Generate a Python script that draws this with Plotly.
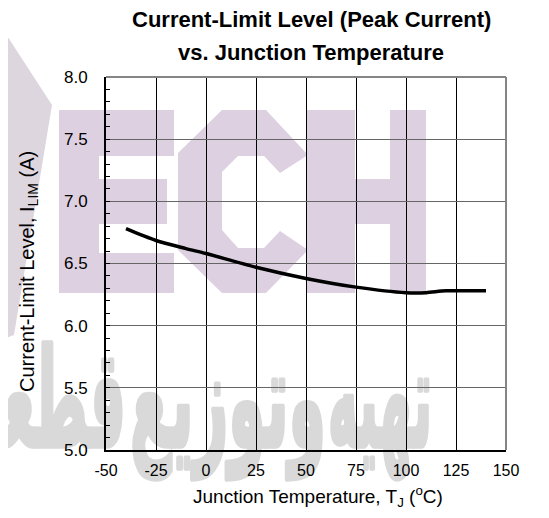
import base64
import plotly.graph_objects as go

# ---- data ----
temperature_c = [-40, -25, -10, 0, 25, 50, 75, 100, 110, 120, 140]
current_limit_a = [6.78, 6.685, 6.62, 6.58, 6.47, 6.38, 6.31, 6.265, 6.265, 6.28, 6.28]

x_tick_vals = [-50, -25, 0, 25, 50, 75, 100, 125, 150]
x_tick_text = ["-50", "-25", "0", "25", "50", "75", "100", "125", "150"]
y_tick_vals = [5.0, 5.5, 6.0, 6.5, 7.0, 7.5, 8.0]
y_tick_text = ["5.0", "5.5", "6.0", "6.5", "7.0", "7.5", "8.0"]

title_lines = ["Current-Limit Level (Peak Current)", "vs. Junction Temperature"]
x_title = "Junction Temperature, T<sub>J</sub> (<sup>o</sup>C)"
y_title = "Current-Limit Level, I<sub>LIM</sub> (A)"
watermark_words = ["تهیه", "وتوزیع", "قطعات"]

# ---- geometry: screen pixels (the page body adds an 8px margin) ----
SW, SH = 549, 518
OFF = 8
FW, FH = SW - OFF, SH - OFF
L, R, T, B = 106, 506, 77, 450          # plot area on screen
PW, PH = R - L, B - T


def px(xs):
    return (xs - L) / PW


def py(ys):
    return (B - ys) / PH


FONT = "Liberation Sans, Arial, sans-serif"

# ---- background watermark (decorative) ----
purple = "#ddd1e1"
gray = "#d9d9d9"
svg = f"""<svg xmlns='http://www.w3.org/2000/svg' width='{SW}' height='{SH}' viewBox='0 0 {SW} {SH}'>
<polygon points='0,25 52,105 14,335 0,340' fill='#ddd6df'/>
<rect x='59' y='110' width='40' height='183' fill='{purple}'/>
<rect x='59' y='110' width='115' height='46' fill='{purple}'/>
<rect x='59' y='179' width='108' height='45' fill='{purple}'/>
<rect x='59' y='253' width='115' height='40' fill='{purple}'/>
<polygon points='222,110 266,110 308,155 280,173 264,156 238,156 222,172 222,230 238,248 264,248 280,231 308,250 266,293 222,293 178,250 178,153' fill='{purple}'/>
<rect x='307' y='110' width='48' height='183' fill='{purple}'/>
<rect x='390' y='110' width='36' height='183' fill='{purple}'/>
<rect x='355' y='179' width='35' height='45' fill='{purple}'/>
<g transform='translate(0,446) scale(1,1.35)' font-family='DejaVu Sans' font-weight='bold' font-size='100'
   fill='{gray}' stroke='{gray}' stroke-width='4' stroke-linejoin='round' text-anchor='end'>
<text x='432' y='0' textLength='104' lengthAdjust='spacingAndGlyphs'>{watermark_words[0]}</text>
<text x='326' y='0' textLength='196' lengthAdjust='spacingAndGlyphs'>{watermark_words[1]}</text>
<text x='126' y='0' textLength='200' lengthAdjust='spacingAndGlyphs'>{watermark_words[2]}</text>
</g>
</svg>"""
svg_uri = "data:image/svg+xml;base64," + base64.b64encode(svg.encode("utf-8")).decode("ascii")

fig = go.Figure()
fig.add_trace(go.Scatter(
    x=temperature_c, y=current_limit_a, mode="lines",
    line=dict(color="black", width=3.5, shape="spline", smoothing=0.8),
    hoverinfo="skip", showlegend=False,
))

fig.update_layout(
    width=FW, height=FH,
    margin=dict(l=L - OFF, r=FW - (R - OFF), t=T - OFF, b=FH - (B - OFF), pad=0),
    paper_bgcolor="white",
    plot_bgcolor="rgba(0,0,0,0)",
    font=dict(family=FONT, color="black", size=16),
    showlegend=False,
    images=[dict(source=svg_uri, xref="paper", yref="paper",
                 x=px(0), y=py(0), sizex=SW / PW, sizey=SH / PH,
                 xanchor="left", yanchor="top", sizing="stretch", layer="below")],
    xaxis=dict(
        range=[-50, 150], tickmode="array", tickvals=x_tick_vals, ticktext=x_tick_text,
        showgrid=True, gridcolor="black", gridwidth=1,
        showline=True, linecolor="black", linewidth=2,
        ticks="", zeroline=False, ticklabelstandoff=5,
        tickfont=dict(size=16, family=FONT),
    ),
    yaxis=dict(
        range=[5, 8], tickmode="array", tickvals=y_tick_vals, ticktext=y_tick_text,
        showgrid=True, gridcolor="#666666", gridwidth=1,
        showline=True, linecolor="black", linewidth=2,
        ticks="inside", ticklen=4, tickcolor="black", tickwidth=1,
        minor=dict(dtick=0.1, tick0=5, ticks="inside", ticklen=4, tickcolor="black", tickwidth=1, showgrid=False),
        zeroline=False, ticklabelstandoff=13,
        tickfont=dict(size=17, family=FONT),
    ),
    shapes=[
        dict(type="line", xref="paper", yref="paper", x0=0, x1=1, y0=1, y1=1,
             line=dict(color="#858585", width=2), layer="above"),
        dict(type="line", xref="paper", yref="paper", x0=1, x1=1, y0=0, y1=1,
             line=dict(color="#858585", width=2), layer="above"),
    ],
    annotations=[
        dict(text="<b>" + title_lines[0] + "</b>", xref="paper", yref="paper",
             x=px(311), y=py(20), xanchor="center", yanchor="middle", showarrow=False,
             font=dict(size=22, family=FONT)),
        dict(text="<b>" + title_lines[1] + "</b>", xref="paper", yref="paper",
             x=px(311), y=py(53), xanchor="center", yanchor="middle", showarrow=False,
             font=dict(size=22, family=FONT)),
        dict(text=x_title, xref="paper", yref="paper",
             x=px(318), y=py(496), xanchor="center", yanchor="middle", showarrow=False,
             font=dict(size=19, family=FONT)),
        dict(text=y_title, xref="paper", yref="paper", textangle=-90,
             x=px(28), y=py(272), xanchor="center", yanchor="middle", showarrow=False,
             font=dict(size=20, family=FONT)),
    ],
)

fig.write_html("out.html")
